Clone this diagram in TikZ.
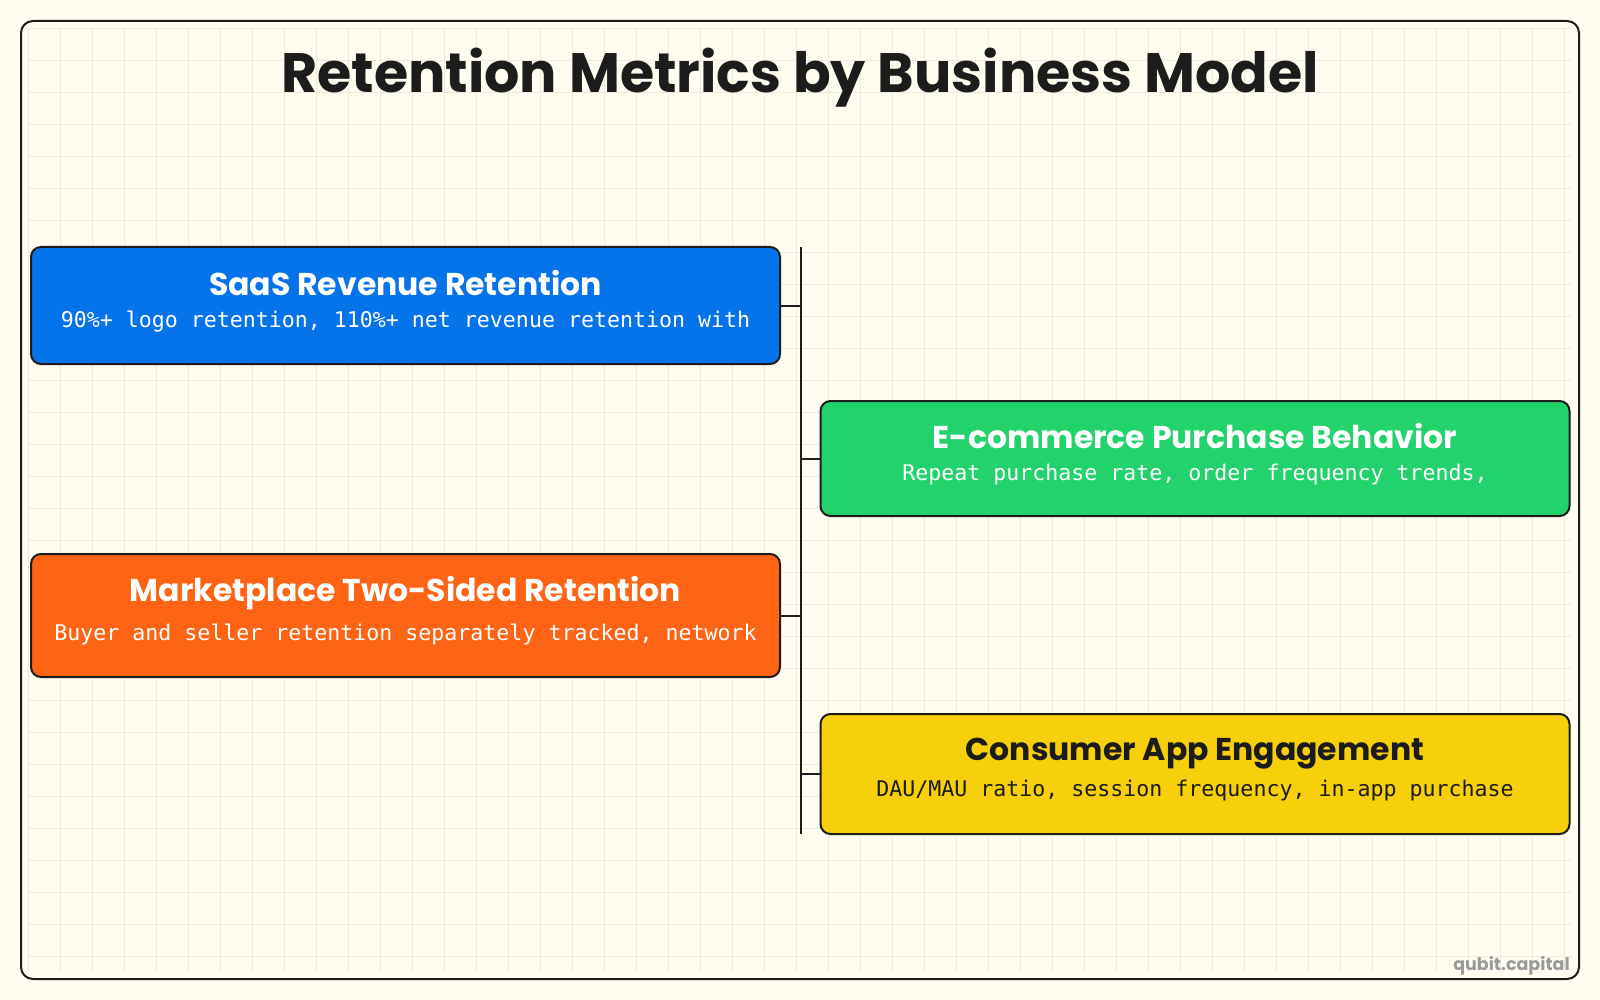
\documentclass[tikz,border=0pt]{standalone}
\usepackage{fontspec}
\setmainfont{Poppins}
\newfontfamily\codefont{DejaVu Sans Mono}
\definecolor{paper}{HTML}{FFFDF0}
\definecolor{gridcol}{HTML}{EDEBDD}
\definecolor{ink}{HTML}{1C1C1C}
\definecolor{saasblue}{HTML}{0573EA}
\definecolor{ecomgreen}{HTML}{22D36B}
\definecolor{marketorange}{HTML}{FF6414}
\definecolor{appyellow}{HTML}{F7CF0A}
\definecolor{markgray}{HTML}{9A9A9A}

\begin{document}
\begin{tikzpicture}[
  x=1pt, y=-1pt,
  line width=2pt,
  gridline/.style={draw=gridcol, line width=0.8pt},
  card/.style={
     rectangle,
     rounded corners=10pt,
     draw=ink,
     text=white,
     align=center,
     font=\fontsize{21.6}{#1}\selectfont,
     text depth=14pt,
     minimum width=749pt,
  },
  card/.default=32pt,
  headfont/.style={font=\fontsize{55.5}{64}\selectfont\bfseries},
]
   % page and grid paper
   \useasboundingbox[fill=paper] (0,0) rectangle (1600,1000);
   \foreach \gx in {28,60,...,1564} \draw[gridline] (\gx,28) -- (\gx,972);
   \foreach \gy in {28,60,...,956} \draw[gridline] (28,\gy) -- (1572,\gy);
   \draw[ink, rounded corners=12pt] (21,21) rectangle (1579,979);

   \node[headfont, text=ink] (title) at (800,78) {Retention Metrics by Business Model};

   % The four cards
   \node[card, fill=saasblue, minimum height=117pt] (saas) at (405.5,305.5)
     {{\fontsize{31.5}{33}\selectfont\bfseries SaaS Revenue Retention}\\
      {\codefont 90\%+ logo retention, 110\%+ net revenue retention with}};
   \node[card, fill=ecomgreen, minimum height=115pt] (ecom) at (1195,458.5)
     {{\fontsize{31.5}{33}\selectfont\bfseries E-commerce Purchase Behavior}\\
      {\codefont Repeat purchase rate, order frequency trends,}};
   \node[card=39pt, fill=marketorange, minimum height=123pt] (market) at (405.5,615.5)
     {{\fontsize{31.5}{33}\selectfont\bfseries Marketplace Two-Sided Retention}\\
      {\codefont Buyer and seller retention separately tracked, network}};
   \node[card=36pt, fill=appyellow, text=ink, minimum height=120pt] (consumer) at (1195,774)
     {{\fontsize{31.5}{33}\selectfont\bfseries Consumer App Engagement}\\
      {\codefont DAU/MAU ratio, session frequency, in-app purchase}};

   % The trunk and its branches
   \coordinate (trunktop) at (801,247);
   \coordinate (trunkbot) at (801,834);
   \draw[ink] (trunktop) -- (trunkbot);
   \draw[ink] (saas.east) -- (saas.east -| trunktop);
   \draw[ink] (market.east) -- (market.east -| trunktop);
   \draw[ink] (ecom.west) -- (ecom.west -| trunktop);
   \draw[ink] (consumer.west) -- (consumer.west -| trunktop);

   \node[anchor=east, text=markgray, font=\fontsize{17.5}{20}\selectfont\bfseries] (mark) at (1574,966) {qubit.capital};
\end{tikzpicture}
\end{document}
